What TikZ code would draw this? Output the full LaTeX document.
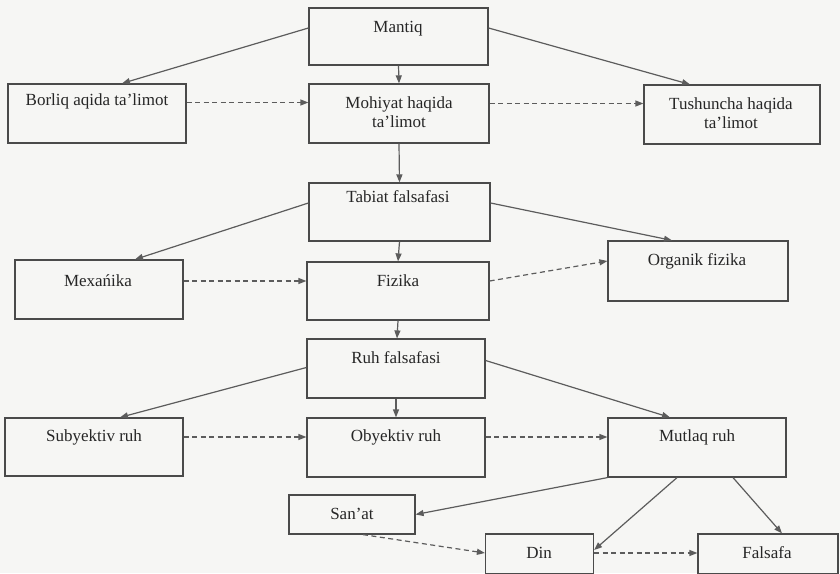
\documentclass[tikz,border=0pt]{standalone}
\usepackage{fontspec}
\setmainfont{Liberation Serif}
\usetikzlibrary{arrows.meta}
\definecolor{ink}{HTML}{4A4A4A}
\definecolor{paper}{HTML}{F6F6F4}
\tikzset{
  box/.style={draw=ink, line width=1.2pt, rectangle, inner sep=0pt},
  txt/.style={text=black!85, font=\fontsize{17}{19}\selectfont, align=center, inner sep=0pt},
  arr/.style={draw=ink!90, line width=1.2pt, -{Triangle[length=8pt,width=6pt]}},
  darr/.style={arr, dashed, dash pattern=on 5pt off 3.5pt}
}
\begin{document}
\begin{tikzpicture}[x=1pt,y=-1pt]
\useasboundingbox[fill=paper] (0,0) rectangle (840,573);
% boxes
\node[box, minimum width=179pt, minimum height=57pt] (mantiq) at (398.5,36.5) {};
\node[box, minimum width=178pt, minimum height=59pt] (borliq) at (97,113.5) {};
\node[box, minimum width=180pt, minimum height=59pt] (mohiyat) at (399,113.5) {};
\node[box, minimum width=176pt, minimum height=59pt] (tush) at (732,114.5) {};
\node[box, minimum width=181pt, minimum height=58pt] (tabiat) at (399.5,212) {};
\node[box, minimum width=168pt, minimum height=59pt] (mex) at (99,289.5) {};
\node[box, minimum width=182pt, minimum height=58pt] (fiz) at (398,291) {};
\node[box, minimum width=180pt, minimum height=60pt] (org) at (698,271) {};
\node[box, minimum width=178pt, minimum height=59pt] (ruh) at (396,368.5) {};
\node[box, minimum width=178pt, minimum height=58pt] (sub) at (94,447) {};
\node[box, minimum width=178pt, minimum height=59pt] (oby) at (396,447.5) {};
\node[box, minimum width=178pt, minimum height=59pt] (mut) at (697,447.5) {};
\node[box, minimum width=126pt, minimum height=39pt] (san) at (352,514.5) {};
\node[box, minimum width=108pt, minimum height=40pt] (din) at (539.5,554) {};
\node[box, minimum width=140pt, minimum height=40pt] (fal) at (768,554) {};
% texts
\node[txt] (tmantiq) at (398,29) {Mantiq};
\node[txt] (tborliq) at (97,101) {Borliq aqida ta'limot};
\node[txt] (tmohiyat) at (399,112.5) {Mohiyat haqida\\ta'limot};
\node[txt] (ttush) at (731,113) {Tushuncha haqida\\ta'limot};
\node[txt] (ttabiat) at (398,197) {Tabiat falsafasi};
\node[txt] (tmex) at (98,281) {Mexańika};
\node[txt] (tfiz) at (398,281) {Fizika};
\node[txt] (torg) at (697,261) {Organik fizika};
\node[txt] (truh) at (396,358) {Ruh falsafasi};
\node[txt] (tsub) at (94,437) {Subyektiv ruh};
\node[txt] (toby) at (396,437) {Obyektiv ruh};
\node[txt] (tmut) at (697,437) {Mutlaq ruh};
\node[txt] (tsan) at (352,514) {San'at};
\node[txt] (tdin) at (539,553) {Din};
\node[txt] (tfal) at (767,553) {Falsafa};
% solid arrows
\draw[arr] ([yshift=8.5pt]mantiq.west) -- ([xshift=25pt]borliq.north);
\draw[arr] ([yshift=8.5pt]mantiq.east) -- ([xshift=-42pt]tush.north);
\draw[arr] (mantiq.south) -- (mohiyat.north);
\draw[arr] (mohiyat.south) -- (tabiat.north);
\draw[arr] ([yshift=9pt]tabiat.west) -- ([xshift=36pt]mex.north);
\draw[arr] ([yshift=9pt]tabiat.east) -- ([xshift=-26pt]org.north);
\draw[arr] (tabiat.south) -- (fiz.north);
\draw[arr] (fiz.south) -- ([xshift=1pt]ruh.north);
\draw[arr] ([yshift=1pt]ruh.west) -- ([xshift=26pt]sub.north);
\draw[arr] ([yshift=8pt]ruh.east) -- ([xshift=-27pt]mut.north);
\draw[arr] (ruh.south) -- (oby.north);
\draw[arr] (mut.south west) -- (san.east);
\draw[arr] ([xshift=-20pt]mut.south) -- ([yshift=4pt]din.east);
\draw[arr] ([xshift=36pt]mut.south) -- ([xshift=14pt]fal.north);
% dashed arrows
\draw[darr] ([yshift=11pt]borliq.east) -- ([yshift=11pt]mohiyat.west);
\draw[darr] ([yshift=10pt]mohiyat.east) -- ([yshift=11pt]tush.west);
\draw[darr] ([yshift=8.5pt]mex.east) -- ([yshift=10pt]fiz.west);
\draw[darr] ([yshift=10pt]fiz.east) -- ([yshift=10pt]org.west);
\draw[darr] ([yshift=10pt]sub.east) -- ([yshift=10.5pt]oby.west);
\draw[darr] ([yshift=10.5pt]oby.east) -- ([yshift=10.5pt]mut.west);
\draw[darr] ([xshift=11pt]san.south) -- ([yshift=1pt]din.west);
\draw[darr] ([yshift=1pt]din.east) -- ([yshift=1pt]fal.west);
\end{tikzpicture}
\end{document}
